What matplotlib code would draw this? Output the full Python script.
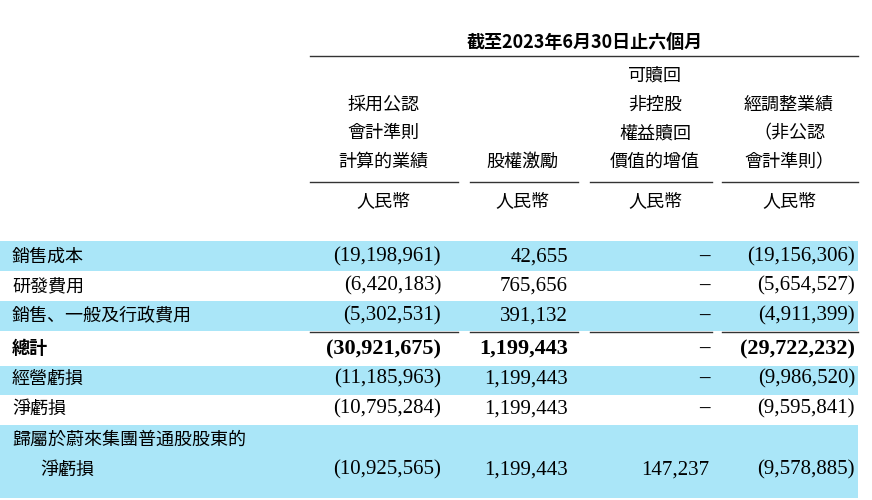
import matplotlib
matplotlib.use("Agg")
import matplotlib.pyplot as plt
from matplotlib.patches import Rectangle

title = "截至2023年6月30日止六個月"
col_headers = [["採用公認", "會計準則", "計算的業績"],
               ["股權激勵"],
               ["可贖回", "非控股", "權益贖回", "價值的增值"],
               ["經調整業績", "（非公認", "會計準則）"]]
unit = "人民幣"
row_labels = ["銷售成本", "研發費用", "銷售、一般及行政費用", "總計", "經營虧損", "淨虧損",
              "歸屬於蔚來集團普通股股東的", "淨虧損"]
col1 = ["(19,198,961)", "(6,420,183)", "(5,302,531)", "(30,921,675)", "(11,185,963)", "(10,795,284)", "", "(10,925,565)"]
col2 = ["42,655", "765,656", "391,132", "1,199,443", "1,199,443", "1,199,443", "", "1,199,443"]
col3 = ["–", "–", "–", "–", "–", "–", "", "147,237"]
col4 = ["(19,156,306)", "(5,654,527)", "(4,911,399)", "(29,722,232)", "(9,986,520)", "(9,595,841)", "", "(9,578,885)"]

fig = plt.figure(figsize=(8.72, 5.0), dpi=100)
ax = fig.add_axes([0, 0, 1, 1])
ax.set_xlim(0, 872); ax.set_ylim(500, 0); ax.axis("off")

cjk = ["Noto Sans CJK TC", "Noto Sans CJK JP", "Noto Sans CJK SC", "DejaVu Sans"]
serif = "Liberation Serif"
blue = "#aae6f8"

for y0, y1 in [(241, 271), (301, 331), (366, 395), (425, 498)]:
    ax.add_patch(Rectangle((0, y0), 858, y1 - y0, color=blue, lw=0, zorder=0))

ax.text(585, 42, title, fontfamily=cjk, fontsize=13, fontweight="bold", ha="center", va="center")
ax.plot([310, 858], [56, 56], color="#333", lw=1)

centers = [383, 522, 655, 789]
spans = [(310, 458), (470, 578), (590, 712), (722, 858)]
ys_all = [76, 105, 133, 162]
for c, hdr in zip(centers, col_headers):
    ys = ys_all[-len(hdr):]
    for y, t in zip(ys, hdr):
        ax.text(c, y, t, fontfamily=cjk, fontsize=13, ha="center", va="center")
    ax.text(c, 201, unit, fontfamily=cjk, fontsize=13, ha="center", va="center")
for a, b in spans:
    ax.plot([a, b], [182, 182], color="#333", lw=1)
    ax.plot([a, b], [332, 332], color="#333", lw=1)

row_y = [257, 286, 316, 349, 379, 409, 440, 470]
for i, (lab, y) in enumerate(zip(row_labels, row_y)):
    bold = "bold" if i == 3 else "normal"
    x = 40 if i == 7 else 12
    ax.text(x, y, lab, fontfamily=cjk, fontsize=13, fontweight=bold, ha="left", va="center")
    for vals, xr in [(col1, 441), (col2, 568), (col3, 709), (col4, 855)]:
        v = vals[i]
        if v:
            fs = 16 if i == 3 else 15
            if v == "–":
                ax.text(704, y, v, fontfamily=serif, fontsize=15, fontweight="bold", ha="center", va="center")
            else:
                ax.text(xr, y, v, fontfamily=serif, fontsize=fs, fontweight=bold, ha="right", va="center")

fig.savefig("out.png", dpi=100)
